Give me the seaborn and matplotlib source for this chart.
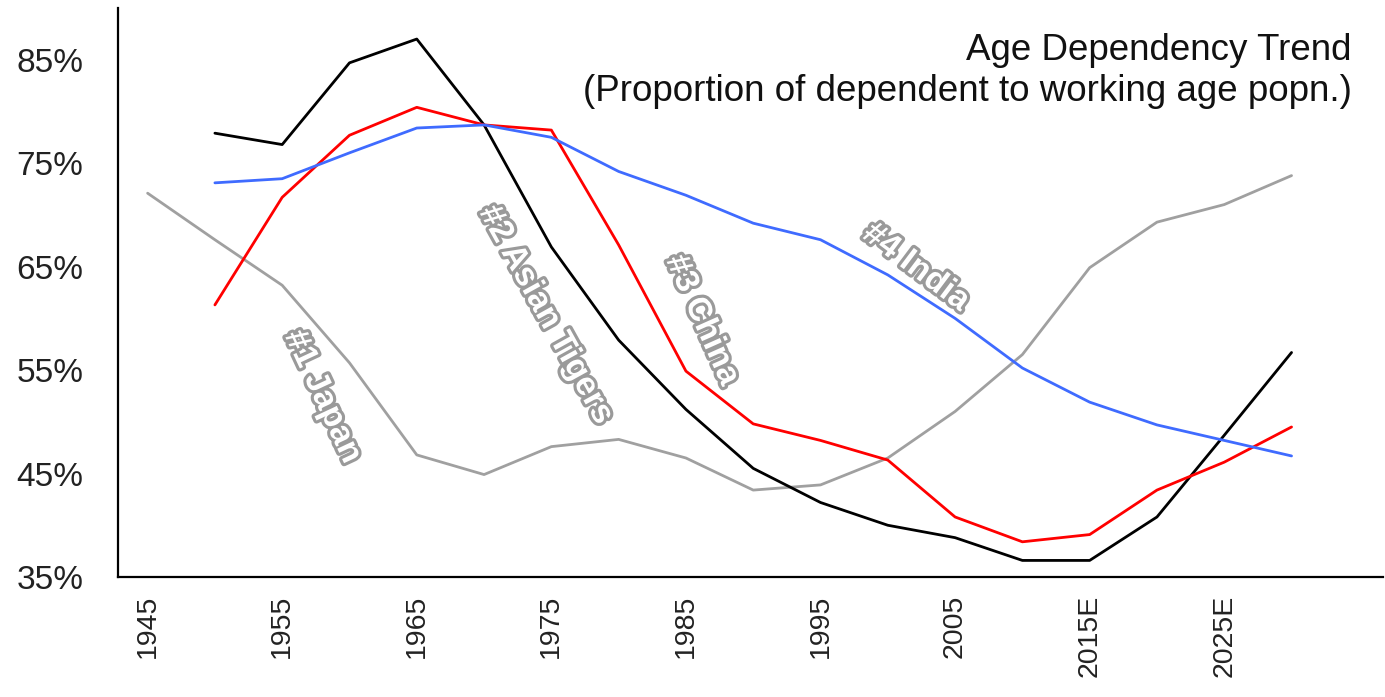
import pandas as pd
import numpy as np
import matplotlib.pyplot as plt
import matplotlib.patheffects as pe
import seaborn as sns

# -- data (% of working age population)
years_japan = [1945, 1950, 1955, 1960, 1965, 1970, 1975, 1980, 1985, 1990,
               1995, 2000, 2005, 2010, 2015, 2020, 2025, 2030]
japan = [72.1, 67.6, 63.2, 55.7, 46.8, 44.9, 47.6, 48.3, 46.5, 43.4,
         43.9, 46.5, 51.0, 56.5, 64.9, 69.3, 71.0, 73.8]

years = [1950, 1955, 1960, 1965, 1970, 1975, 1980, 1985, 1990, 1995,
         2000, 2005, 2010, 2015, 2020, 2025, 2030]
tigers = [77.9, 76.8, 84.7, 87.0, 78.7, 66.9, 57.9, 51.2, 45.5, 42.2,
          40.0, 38.8, 36.6, 36.6, 40.8, 48.7, 56.7]
china = [61.3, 71.7, 77.7, 80.4, 78.7, 78.2, 67.1, 54.9, 49.8, 48.2,
         46.3, 40.8, 38.4, 39.1, 43.4, 46.1, 49.5]
india = [73.1, 73.5, 76.0, 78.4, 78.7, 77.5, 74.2, 71.9, 69.2, 67.6,
         64.2, 60.0, 55.2, 51.9, 49.7, 48.2, 46.7]

tick_years = [1945, 1955, 1965, 1975, 1985, 1995, 2005, 2015, 2025]
tick_labels = ['1945', '1955', '1965', '1975', '1985', '1995', '2005', '2015E', '2025E']

series_names = ['#1 Japan', '#2 Asian Tigers', '#3 China', '#4 India']
series_colors = ['#a0a0a0', '#000000', '#ff0000', '#3f6bff']

df = pd.concat([
    pd.DataFrame({'year': years_japan, 'value': japan, 'series': series_names[0]}),
    pd.DataFrame({'year': years, 'value': tigers, 'series': series_names[1]}),
    pd.DataFrame({'year': years, 'value': china, 'series': series_names[2]}),
    pd.DataFrame({'year': years, 'value': india, 'series': series_names[3]}),
])

sns.set_style('white')
plt.rcParams['font.family'] = ['Liberation Sans', 'DejaVu Sans']

fig = plt.figure(figsize=(13.85, 6.97), dpi=100)
ax = fig.add_axes([0.0852, 0.1722, 0.9134, 0.8163])

sns.lineplot(data=df, x='year', y='value', hue='series', hue_order=series_names,
             palette=series_colors, linewidth=2.0, legend=False, ax=ax)

ax.set_xlim(1942.8, 2036.8)
ax.set_ylim(35, 90)
ax.set_yticks([35, 45, 55, 65, 75, 85])
ax.set_yticklabels([f'{v}%' for v in [35, 45, 55, 65, 75, 85]])
ax.set_xticks(tick_years)
ax.set_xticklabels(tick_labels, rotation=90, va='top', ha='center')
ax.tick_params(axis='both', length=0, colors='#222222')
ax.tick_params(axis='y', pad=25, labelsize=24)
ax.tick_params(axis='x', pad=13, labelsize=20.5)
ax.set_xlabel('')
ax.set_ylabel('')

for s in ['top', 'right']:
    ax.spines[s].set_visible(False)
for s in ['left', 'bottom']:
    ax.spines[s].set_color('black')
    ax.spines[s].set_linewidth(1.6)

# -- series labels (outlined text along the curves)
label_pos = [(1958.0, 52.4, -65), (1974.6, 60.3, -61), (1986.2, 59.8, -66), (2002.1, 64.9, -37)]
for name, (lx, ly, rot) in zip(series_names, label_pos):
    ax.text(lx, ly, name, rotation=rot, rotation_mode='anchor', ha='center', va='center',
            fontsize=24, fontweight='bold', fontstretch='condensed',
            family=['Liberation Sans Narrow', 'Liberation Sans', 'DejaVu Sans'],
            color='white',
            path_effects=[pe.withStroke(linewidth=4.5, foreground='#9a9a9a')])

# -- title
ax.text(0.976, 0.953, 'Age Dependency Trend\n(Proportion of dependent to working age popn.)',
        transform=fig.transFigure, ha='right', va='top', fontsize=26.5,
        linespacing=1.22, color='#111111')

plt.savefig('out.png', dpi=100)
